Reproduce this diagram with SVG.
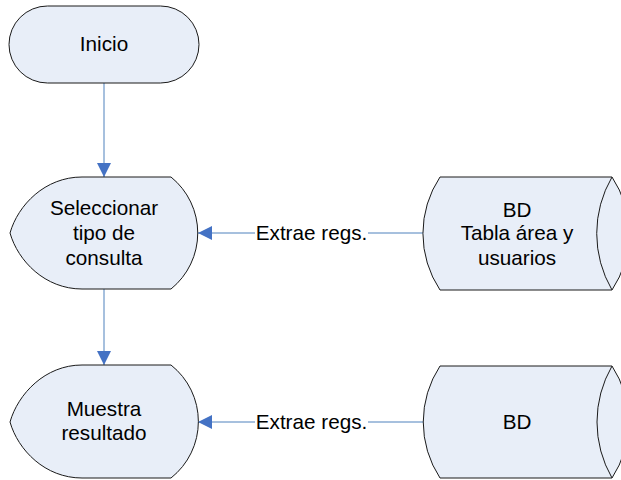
<svg xmlns="http://www.w3.org/2000/svg" width="621" height="480" viewBox="0 0 621 480">
<style>
.shape{fill:#e8eef8;stroke:#1a1a1a;stroke-width:1}
.t{font-family:"Liberation Sans",Arial,sans-serif;font-size:20.7px;fill:#000;text-anchor:middle}
.c{stroke:#4f81bd;stroke-width:1;fill:none}
</style>
<defs>
<marker id="arr" markerWidth="14" markerHeight="14" refX="14" refY="7" orient="auto" markerUnits="userSpaceOnUse">
<path d="M0,0 L14,7 L0,14 Z" fill="#4472c4"/>
</marker>
</defs>
<rect width="621" height="480" fill="#fff"/>
<g id="connectors">
<line class="c" x1="104" y1="83" x2="104" y2="177" marker-end="url(#arr)"/>
<line class="c" x1="104" y1="289" x2="104" y2="365" marker-end="url(#arr)"/>
<line class="c" x1="423" y1="233" x2="198" y2="233" marker-end="url(#arr)"/>
<line class="c" x1="423" y1="422" x2="198" y2="422" marker-end="url(#arr)"/>
<rect x="255" y="222" width="113" height="22" fill="#fff"/>
<text class="t" x="311.5" y="240">Extrae regs.</text>
<rect x="255" y="411" width="113" height="22" fill="#fff"/>
<text class="t" x="311.5" y="429">Extrae regs.</text>
</g>
<g id="inicio">
<rect class="shape" x="9" y="6" width="190" height="77" rx="38.5" ry="38.5"/>
<text class="t" x="104" y="51">Inicio</text>
</g>
<g id="seleccionar">
<path class="shape" d="M82,177 L171,177 A72,72 0 0 1 171,289 L82,289 C45,289 18,261 10,233 C18,205 45,177 82,177 Z"/>
<text class="t" x="104" y="215">Seleccionar</text>
<text class="t" x="104" y="240">tipo de</text>
<text class="t" x="104" y="265">consulta</text>
</g>
<g id="muestra">
<path class="shape" d="M82,365 L171,365 A72,72 0 0 1 171,478 L82,478 C45,478 18,450 10,422 C18,394 45,365 82,365 Z"/>
<text class="t" x="104" y="416">Muestra</text>
<text class="t" x="104" y="440">resultado</text>
</g>
<g id="bd1">
<path class="shape" d="M440,177 L612,177 A102,102 0 0 1 612,290 L440,290 A102,102 0 0 1 440,177 Z"/>
<path class="shape" d="M612,177 A112,112 0 0 0 612,290" fill="none"/>
<text class="t" x="517" y="217">BD</text>
<text class="t" x="517" y="240">Tabla área y</text>
<text class="t" x="517" y="265">usuarios</text>
</g>
<g id="bd2">
<path class="shape" d="M440,366 L612,366 A102,102 0 0 1 612,478 L440,478 A102,102 0 0 1 440,366 Z"/>
<path class="shape" d="M612,366 A112,112 0 0 0 612,478" fill="none"/>
<text class="t" x="517" y="429">BD</text>
</g>
</svg>
